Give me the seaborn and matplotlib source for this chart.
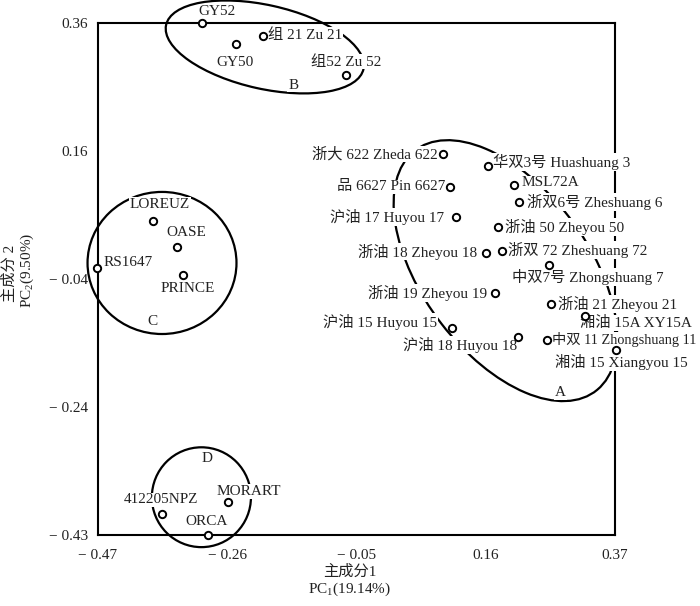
import numpy as np
import pandas as pd
import matplotlib
matplotlib.use("Agg")
import matplotlib.pyplot as plt
import seaborn as sns
from matplotlib.patches import Ellipse

# cultivar scores on PC1 / PC2
names = ["GY52", "组 21 Zu 21", "GY50", "组52 Zu 52",
         "浙大 622 Zheda 622", "品 6627 Pin 6627", "沪油 17 Huyou 17", "浙油 18 Zheyou 18",
         "华双3号 Huashuang 3", "MSL72A", "浙双6号 Zheshuang 6", "浙油 50 Zheyou 50",
         "浙双 72 Zheshuang 72", "中双7号 Zhongshuang 7", "浙油 19 Zheyou 19", "浙油 21 Zheyou 21",
         "湘油 15A XY15A", "沪油 15 Huyou 15", "沪油 18 Huyou 18", "中双 11 Zhongshuang 11",
         "湘油 15 Xiangyou 15",
         "LOREUZ", "OASE", "RS1647", "PRINCE",
         "412205NPZ", "MORART", "ORCA"]
pc1 = [-0.301, -0.202, -0.246, -0.067,
       0.091, 0.102, 0.112, 0.160,
       0.164, 0.206, 0.214, 0.180,
       0.186, 0.263, 0.175, 0.266,
       0.321, 0.105, 0.212, 0.260,
       0.372,
       -0.381, -0.342, -0.472, -0.332,
       -0.366, -0.259, -0.291]
pc2 = [0.360, 0.340, 0.327, 0.279,
       0.155, 0.104, 0.057, 0.001,
       0.137, 0.107, 0.080, 0.041,
       0.004, -0.018, -0.062, -0.079,
       -0.098, -0.117, -0.131, -0.135,
       -0.151,
       0.051, 0.010, -0.023, -0.034,
       -0.407, -0.388, -0.440]
group = ["B"] * 4 + ["A"] * 17 + ["C"] * 4 + ["D"] * 3

# label placement (pixel offsets from the marker)
lab_dx = [-4, 5, -1, 0,
          -6, -5, -12, -9,
          5, 7, 8, 7,
          6, -37, -8, 7,
          -5, -15, -1, 5,
          -61,
          7, 10, 7, 5,
          -1, 21, -2]
lab_dy = [11, 1, -18, 13,
          0, 0, 0, 1,
          4, 2, 0, 0,
          1, -12, 0, 0,
          -7, 6, -8, 0,
          -12,
          16, 14, 6, -13,
          14, 10, 13]
lab_ha = ["left", "left", "center", "center",
          "right", "right", "right", "right",
          "left", "left", "left", "left",
          "left", "left", "right", "left",
          "left", "right", "right", "left",
          "left",
          "center", "center", "left", "center",
          "center", "center", "center"]
# a few labels sit against the right edge and are set a bit smaller
lab_size = {"中双 11 Zhongshuang 11": 10.3}

# group ellipses
ell_names = ["A", "B", "C", "D"]
ell_x = [0.192, -0.199, -0.366, -0.302]
ell_y = [-0.027, 0.3225, -0.015, -0.381]
ell_w = [0.477, 0.328, 0.242, 0.161]
ell_h = [0.266, 0.131, 0.222, 0.156]
ell_ang = [-51.3, -12.0, 0.0, 0.0]
letter_x = [0.281, -0.153, -0.381, -0.293]
letter_y = [-0.218, 0.263, -0.107, -0.321]

xticks = [-0.47, -0.26, -0.05, 0.16, 0.37]
xtick_labels = ["\u2212 0.47", "\u2212 0.26", "\u2212 0.05", "0.16", "0.37"]
yticks = [0.36, 0.16, -0.04, -0.24, -0.44]
ytick_labels = ["0.36", "0.16", "\u2212 0.04", "\u2212 0.24", "\u2212 0.43"]

df = pd.DataFrame({"name": names, "pc1": pc1, "pc2": pc2, "group": group})

sns.set_style("white")
plt.rcParams["font.family"] = ["Liberation Serif", "Noto Sans CJK SC"]
plt.rcParams["mathtext.fontset"] = "custom"
plt.rcParams["mathtext.rm"] = "Liberation Serif"
plt.rcParams["mathtext.it"] = "Liberation Serif:italic"
txt_col = "#222222"

fig = plt.figure(figsize=(7, 6.06), dpi=100)
ax = fig.add_axes([0.14, 0.1172, 0.7386, 0.8449])

for i in range(len(ell_names)):
    e = Ellipse((ell_x[i], ell_y[i]), ell_w[i], ell_h[i], angle=ell_ang[i],
                fill=False, ec="black", lw=1.6, zorder=2, clip_on=False)
    ax.add_patch(e)

sns.scatterplot(data=df, x="pc1", y="pc2", ax=ax, marker="o", s=28,
                facecolor="white", edgecolor="black", linewidth=1.4,
                zorder=5, clip_on=False, legend=False)

box = dict(boxstyle="square,pad=0.05", fc="white", ec="none")
for i, row in df.iterrows():
    ax.annotate(row["name"], (row["pc1"], row["pc2"]),
                xytext=(lab_dx[i], lab_dy[i]), textcoords="offset pixels",
                ha=lab_ha[i], va="center", fontsize=lab_size.get(row["name"], 11),
                color=txt_col, bbox=box, zorder=4, annotation_clip=False)

for i in range(len(ell_names)):
    ax.text(letter_x[i], letter_y[i], ell_names[i], ha="center", va="center",
            fontsize=11, color=txt_col, bbox=box, zorder=4, clip_on=False)

ax.set_xlim(-0.47, 0.37)
ax.set_ylim(-0.44, 0.36)
ax.set_xticks(xticks)
ax.set_xticklabels(xtick_labels)
ax.set_yticks(yticks)
ax.set_yticklabels(ytick_labels)
ax.set_xticks(np.arange(-0.47, 0.3701, 0.042), minor=True)
ax.set_yticks(np.arange(-0.44, 0.3601, 0.04), minor=True)
ax.tick_params(which="both", direction="in", top=False, right=False,
               width=1.5, colors="black", labelcolor=txt_col, labelsize=11)
ax.tick_params(which="major", length=7)
ax.tick_params(which="minor", length=5)
ax.tick_params(axis="x", pad=10)
ax.tick_params(axis="y", pad=7)
for sp in ax.spines.values():
    sp.set_linewidth(1.5)
    sp.set_color("black")
ax.set_xlabel("")
ax.set_ylabel("")

fig.text(350 / 700, 1 - 572 / 606, "主成分1", ha="center", va="center",
         fontsize=11, color=txt_col)
fig.text(350 / 700, 1 - 589 / 606, "PC$_1$(19.14%)", ha="center", va="center",
         fontsize=11, color=txt_col)
fig.text(10 / 700, 1 - 273 / 606, "主成分 2", ha="center", va="center",
         rotation=90, fontsize=11, color=txt_col)
fig.text(27 / 700, 1 - 270 / 606, "PC$_2$(9.50%)", ha="center", va="center",
         rotation=90, fontsize=11, color=txt_col)

fig.savefig("out.png", dpi=100)
